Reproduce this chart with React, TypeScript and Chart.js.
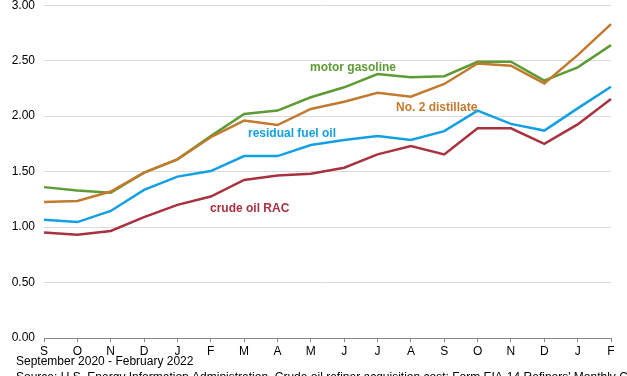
import React, { useEffect, useRef } from "react";
import { Chart, registerables } from "chart.js";

Chart.register(...registerables);

const months = ["S", "O", "N", "D", "J", "F", "M", "A", "M", "J", "J", "A", "S", "O", "N", "D", "J", "F"];
const motorGasoline = [1.36, 1.33, 1.31, 1.49, 1.61, 1.82, 2.02, 2.05, 2.17, 2.26, 2.38, 2.35, 2.36, 2.49, 2.49, 2.32, 2.44, 2.64];
const no2Distillate = [1.225, 1.235, 1.32, 1.49, 1.61, 1.81, 1.96, 1.92, 2.065, 2.13, 2.21, 2.175, 2.29, 2.475, 2.455, 2.295, 2.55, 2.83];
const residualFuelOil = [1.065, 1.045, 1.145, 1.335, 1.455, 1.505, 1.64, 1.64, 1.74, 1.785, 1.82, 1.785, 1.865, 2.05, 1.93, 1.87, 2.07, 2.265];
const crudeOilRAC = [0.95, 0.93, 0.965, 1.09, 1.2, 1.275, 1.425, 1.465, 1.48, 1.535, 1.655, 1.73, 1.655, 1.89, 1.89, 1.75, 1.925, 2.155];
const yTicks = [0, 0.5, 1, 1.5, 2, 2.5, 3];

const GREEN = "#5d9b34";
const ORANGE = "#c27a2f";
const BLUE = "#139fe3";
const RED = "#a8323f";

const periodText = "September 2020 - February 2022";
const sourceText = "Source: U.S. Energy Information Administration, Crude oil refiner acquisition cost; Form EIA-14 Refiners' Monthly Cost Report";

const SHIFT = 11;

const seriesLabels = [
  { text: "motor gasoline", color: GREEN, x: 310, y: 68 },
  { text: "No. 2 distillate", color: ORANGE, x: 396, y: 108 },
  { text: "residual fuel oil", color: BLUE, x: 248, y: 134 },
  { text: "crude oil RAC", color: RED, x: 210, y: 209 },
];

export default function App() {
  const ref = useRef<HTMLCanvasElement>(null);
  useEffect(() => {
    document.body.style.margin = "0";
    const canvas = ref.current!;
    const textPlugin = {
      id: "texts",
      afterDraw(chart: any) {
        const ctx = chart.ctx;
        ctx.save();
        ctx.font = "bold 12px 'Liberation Sans', Arial, sans-serif";
        ctx.textBaseline = "middle";
        ctx.textAlign = "left";
        for (const l of seriesLabels) {
          ctx.fillStyle = l.color;
          ctx.fillText(l.text, l.x, l.y + SHIFT);
        }
        ctx.fillStyle = "#000";
        ctx.font = "12px 'Liberation Sans', Arial, sans-serif";
        ctx.fillText(periodText, 16, 362 + SHIFT);
        ctx.textBaseline = "top";
        ctx.fillText(sourceText, 16, 372 + SHIFT);
        ctx.restore();
      },
    };
    const mk = (label: string, data: number[], color: string) => ({
      label,
      data,
      borderColor: color,
      backgroundColor: color,
      borderWidth: 2.5,
      pointRadius: 0,
      tension: 0,
      fill: false,
    });
    const chart = new Chart(canvas, {
      type: "line",
      data: {
        labels: months,
        datasets: [
          mk("crude oil RAC", crudeOilRAC, RED),
          mk("residual fuel oil", residualFuelOil, BLUE),
          mk("No. 2 distillate", no2Distillate, ORANGE),
          mk("motor gasoline", motorGasoline, GREEN),
        ],
      },
      options: {
        animation: false,
        responsive: false,
        maintainAspectRatio: false,
        layout: { padding: { left: 0, right: 16, top: 0, bottom: 0 } },
        plugins: { legend: { display: false }, tooltip: { enabled: false } },
        scales: {
          x: {
            offset: false,
            grid: {
              display: true,
              drawOnChartArea: false,
              drawTicks: true,
              tickLength: 4,
              color: "#888",
            },
            border: { display: true, color: "#888", width: 1 },
            ticks: {
              color: "#000",
              font: { family: "'Liberation Sans', Arial, sans-serif", size: 12 },
              padding: 2,
              maxRotation: 0,
              autoSkip: false,
            },
            afterFit(scale: any) {
              scale.height = 38;
            },
          },
          y: {
            min: 0,
            max: 3,
            afterBuildTicks(scale: any) {
              scale.ticks = yTicks.map((v) => ({ value: v }));
            },
            grid: { color: "#d9d9d9", lineWidth: 1, drawTicks: false },
            border: { display: false },
            ticks: {
              color: "#000",
              font: { family: "'Liberation Sans', Arial, sans-serif", size: 12 },
              padding: 9,
              callback: (v: any) => Number(v).toFixed(2),
            },
            afterFit(scale: any) {
              scale.width = 44;
            },
          },
        },
      },
      plugins: [textPlugin],
    });
    return () => chart.destroy();
  }, []);
  return (
    <div style={{ width: 627, height: 376, position: "relative", overflow: "hidden" }}>
      <canvas
        ref={ref}
        width={627}
        height={376 + SHIFT}
        style={{ display: "block", position: "absolute", left: 0, top: -SHIFT }}
      />
    </div>
  );
}
